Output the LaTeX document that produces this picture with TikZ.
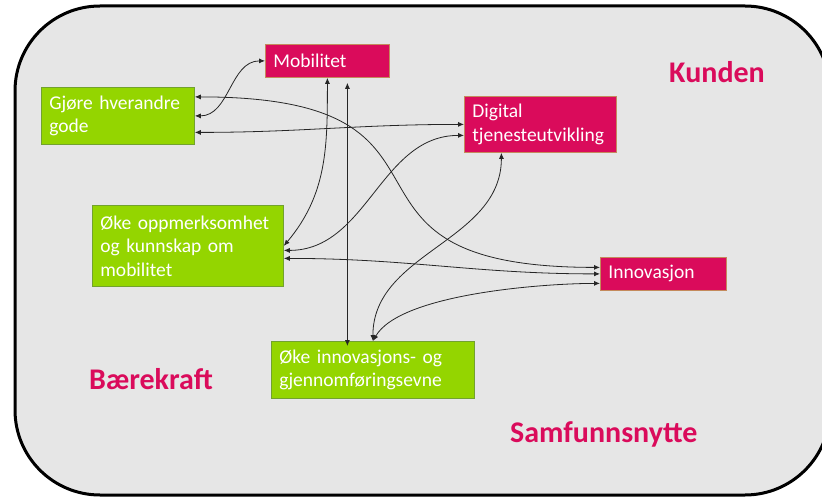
\documentclass[tikz,border=0pt]{standalone}
\usepackage{fontspec}
\setmainfont{Carlito}
\usetikzlibrary{arrows.meta}
\definecolor{rosa}{HTML}{DA0B5B}
\definecolor{rosakant}{HTML}{C48A5C}
\definecolor{gronn}{HTML}{94D500}
\definecolor{gronnkant}{HTML}{72A22E}
\definecolor{bakgrunn}{HTML}{E6E6E6}

\begin{document}
\begin{tikzpicture}[x=1pt,y=1pt,
        boks/.style={anchor=north west,text=white,align=left,inner xsep=8pt,inner ysep=0pt,
          font=\fontsize{19.5}{23.5}\selectfont,line width=0.8pt},
        rosa boks/.style={boks,fill=rosa,draw=rosakant},
        gronn boks/.style={boks,fill=gronn,draw=gronnkant},
        tema/.style={anchor=base west,inner sep=0pt,text=rosa,font=\fontsize{30}{36}\selectfont\bfseries},
        pil/.style={{Latex[length=6pt,width=5pt]}-{Latex[length=6pt,width=5pt]},line width=0.8pt,draw=black!85}]
        \useasboundingbox (0,0) rectangle (822,-497);
        \draw[line width=3pt,fill=bakgrunn,rounded corners=85pt] (15,-6) rectangle (830,-495);
        % boksene
        \node[rosa boks,text width=108pt,minimum height=33pt] (mob) at (265,-44) {Mobilitet};
        \node[gronn boks,text width=137pt,minimum height=57pt] (gjore) at (41,-87) {Gjøre hverandre\\gode};
        \node[rosa boks,text width=136pt,minimum height=56pt] (dig) at (464,-96) {Digital\\tjenesteutvikling};
        \node[gronn boks,text width=175pt,minimum height=81pt] (oek) at (92,-205) {Øke oppmerksomhet\\og kunnskap om\\mobilitet};
        \node[rosa boks,text width=110pt,minimum height=33pt] (inn) at (600,-257) {Innovasjon};
        \node[gronn boks,text width=187pt,minimum height=57pt] (oei) at (271,-341) {Øke innovasjons- og\\gjennomføringsevne};
        \node[tema] (kunden) at (669,-83) {Kunden};
        \node[tema] (baere) at (89,-389) {Bærekraft};
        \node[tema] (samf) at (510,-442) {Samfunnsnytte};
        % pilene
        \draw[pil] (gjore.east) to[out=0,in=180] (mob.west);
        \draw[pil] (mob.south) to[out=-90,in=50] (oek.east);
        \draw[pil] ([xshift=20pt,yshift=-5pt]mob.south) -- ([xshift=20pt,yshift=-5pt]mob.south |- oei.north);
        \draw[pil] ([yshift=19pt]gjore.east) to[out=0,in=180,looseness=1.75] ([yshift=6.5pt]inn.west);
        \draw[pil] ([yshift=-16.5pt]gjore.east) to[out=0,in=180] (dig.west);
        \draw[pil] ([yshift=-4.5pt]oek.east) to[out=0,in=180] ([yshift=-11pt]dig.west);
        \draw[pil] ([yshift=-12.5pt]oek.east) to[out=0,in=180] (inn.west);
        \draw[pil] ([xshift=-39pt]dig.south) to[out=-90,in=90] (oei.north);
        \draw[pil] (oei.north) to[out=60,in=180,looseness=0.6] ([yshift=-9.5pt]inn.west);
\end{tikzpicture}
\end{document}
